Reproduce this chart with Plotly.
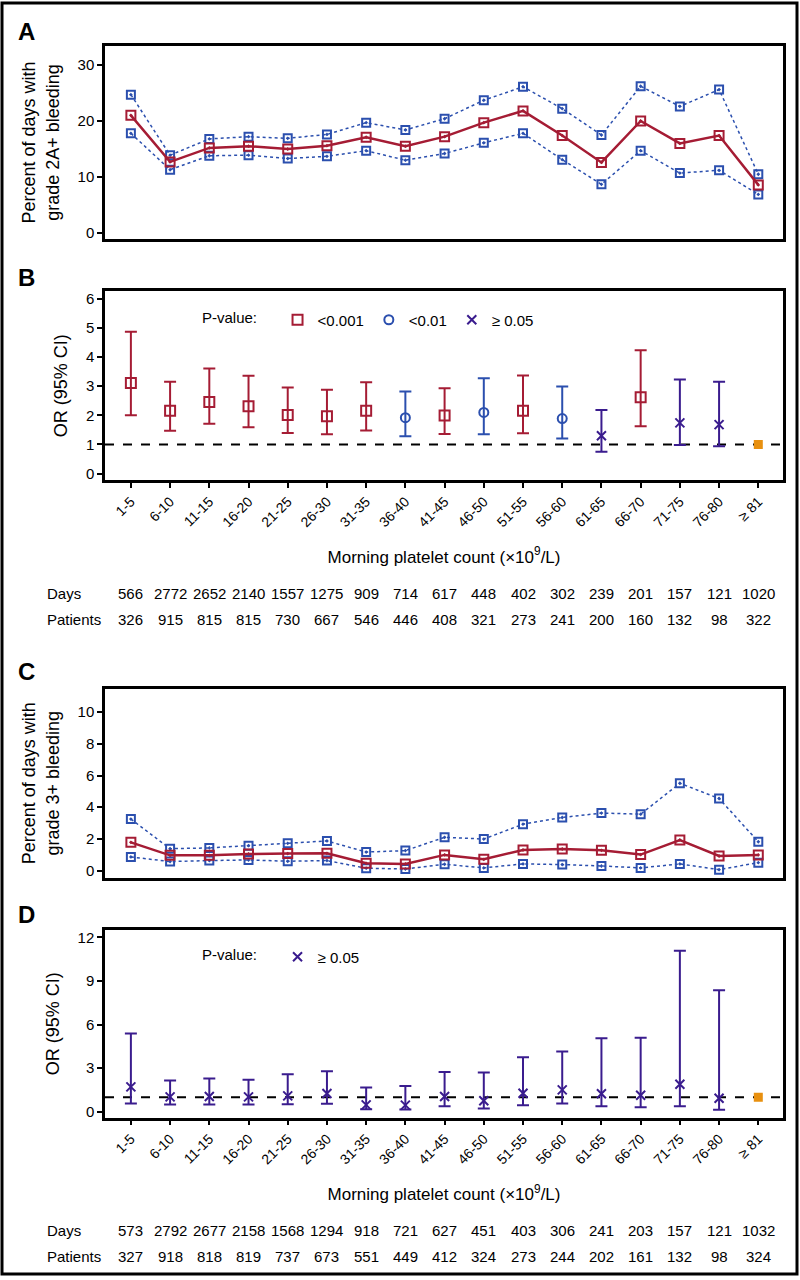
import plotly.graph_objects as go

W, H = 800, 1280

categories = ['1-5', '6-10', '11-15', '16-20', '21-25', '26-30', '31-35', '36-40',
              '41-45', '46-50', '51-55', '56-60', '61-65', '66-70', '71-75', '76-80', '≥ 81']

# panel A: percent of days with grade 2A+ bleeding
a_mean = [21.0, 12.7, 15.2, 15.5, 15.0, 15.6, 17.1, 15.5, 17.2, 19.7, 21.8, 17.4, 12.6, 20.0, 16.0, 17.4, 8.6]
a_upper = [24.7, 13.9, 16.8, 17.2, 16.9, 17.6, 19.7, 18.4, 20.4, 23.7, 26.1, 22.2, 17.5, 26.2, 22.6, 25.6, 10.5]
a_lower = [17.8, 11.3, 13.8, 13.9, 13.3, 13.7, 14.7, 13.0, 14.2, 16.1, 17.8, 13.1, 8.7, 14.7, 10.7, 11.2, 6.9]

# panel B: OR for grade 2A+ bleeding
b_or = [3.11, 2.16, 2.46, 2.31, 2.01, 1.97, 2.16, 1.92, 1.99, 2.10, 2.16, 1.89, 1.30, 2.62, 1.74, 1.68, 1.0]
b_lo = [2.00, 1.47, 1.71, 1.59, 1.39, 1.35, 1.48, 1.28, 1.36, 1.35, 1.38, 1.20, 0.75, 1.62, 0.98, 0.94, None]
b_hi = [4.87, 3.15, 3.61, 3.36, 2.96, 2.88, 3.14, 2.82, 2.93, 3.27, 3.37, 2.99, 2.18, 4.24, 3.23, 3.15, None]
b_pval = ['<0.001', '<0.001', '<0.001', '<0.001', '<0.001', '<0.001', '<0.001', '<0.01',
          '<0.001', '<0.01', '<0.001', '<0.01', '≥ 0.05', '<0.001', '≥ 0.05', '≥ 0.05', 'ref']
b_days = [566, 2772, 2652, 2140, 1557, 1275, 909, 714, 617, 448, 402, 302, 239, 201, 157, 121, 1020]
b_patients = [326, 915, 815, 815, 730, 667, 546, 446, 408, 321, 273, 241, 200, 160, 132, 98, 322]

# panel C: percent of days with grade 3+ bleeding
c_mean = [1.78, 0.96, 0.96, 1.05, 1.07, 1.09, 0.46, 0.42, 0.99, 0.71, 1.30, 1.36, 1.28, 1.01, 1.93, 0.92, 0.99]
c_upper = [3.25, 1.38, 1.43, 1.57, 1.72, 1.87, 1.17, 1.26, 2.10, 1.99, 2.93, 3.35, 3.63, 3.56, 5.51, 4.55, 1.82]
c_lower = [0.86, 0.57, 0.63, 0.67, 0.59, 0.63, 0.15, 0.10, 0.40, 0.17, 0.42, 0.38, 0.29, 0.17, 0.42, 0.06, 0.50]

# panel D: OR for grade 3+ bleeding
d_or = [1.72, 1.03, 1.05, 1.03, 1.10, 1.26, 0.48, 0.46, 1.05, 0.76, 1.28, 1.51, 1.24, 1.14, 1.90, 0.94, 1.0]
d_lo = [0.57, 0.50, 0.50, 0.50, 0.53, 0.55, 0.18, 0.16, 0.39, 0.23, 0.46, 0.57, 0.39, 0.32, 0.39, 0.14, None]
d_hi = [5.40, 2.15, 2.29, 2.20, 2.59, 2.79, 1.67, 1.78, 2.75, 2.70, 3.75, 4.16, 5.06, 5.10, 11.09, 8.37, None]
d_pval = ['≥ 0.05'] * 16 + ['ref']
d_days = [573, 2792, 2677, 2158, 1568, 1294, 918, 721, 627, 451, 403, 306, 241, 203, 157, 121, 1032]
d_patients = [327, 918, 818, 819, 737, 673, 551, 449, 412, 324, 273, 244, 202, 161, 132, 98, 324]

RED = '#a51c34'
BLUE = '#2b4fae'
PURPLE = '#3a1c8e'
ORANGE = '#e8900f'
FONT = 'Liberation Sans, Arial, sans-serif'

pstyle = {
    '<0.001': dict(color=RED, symbol='square-open', size=10),
    '<0.01': dict(color=BLUE, symbol='circle-open', size=9),
    '≥ 0.05': dict(color=PURPLE, symbol='x-thin-open', size=9),
}


def ypaper(top, bottom):
    return [1 - bottom / H, 1 - top / H]


XDOM = [105 / W, 783 / W]
XRANGE = [-0.66, 16.63]

fig = go.Figure()


def add_pct_panel(n, mean, upper, lower):
    xa, ya = ('x', 'y') if n == 1 else ('x%d' % n, 'y%d' % n)
    for vals in (upper, lower):
        fig.add_trace(go.Scatter(
            x=categories, y=vals, xaxis=xa, yaxis=ya, mode='lines+markers',
            line=dict(color=BLUE, width=1.5, dash='dot'),
            marker=dict(symbol='square-open-dot', size=8, color=BLUE, line=dict(width=2)),
            showlegend=False))
    fig.add_trace(go.Scatter(
        x=categories, y=mean, xaxis=xa, yaxis=ya, mode='lines+markers',
        line=dict(color=RED, width=2.5),
        marker=dict(symbol='square-open-dot', size=9, color=RED, line=dict(width=2)),
        showlegend=False))


def add_or_panel(n, orv, lo, hi, pval, legend):
    xa, ya = 'x%d' % n, 'y%d' % n
    for key, st in pstyle.items():
        idx = [i for i, p in enumerate(pval) if p == key]
        if not idx:
            continue
        fig.add_trace(go.Scatter(
            x=[categories[i] for i in idx], y=[orv[i] for i in idx],
            xaxis=xa, yaxis=ya, mode='markers', name=key, legend=legend,
            marker=dict(symbol=st['symbol'], size=st['size'], color=st['color'],
                        line=dict(width=2, color=st['color'])),
            error_y=dict(type='data', symmetric=False,
                         array=[hi[i] - orv[i] for i in idx],
                         arrayminus=[orv[i] - lo[i] for i in idx],
                         color=st['color'], thickness=2, width=6)))
    idx = [i for i, p in enumerate(pval) if p == 'ref']
    fig.add_trace(go.Scatter(
        x=[categories[i] for i in idx], y=[orv[i] for i in idx],
        xaxis=xa, yaxis=ya, mode='markers', showlegend=False,
        marker=dict(symbol='square', size=9, color=ORANGE)))
    fig.add_shape(type='line', xref='%s domain' % xa, yref=ya, x0=0, x1=1, y0=1, y1=1,
                  line=dict(color='black', width=2, dash='dash'), layer='below')


add_pct_panel(1, a_mean, a_upper, a_lower)
add_or_panel(2, b_or, b_lo, b_hi, b_pval, 'legend')
add_pct_panel(3, c_mean, c_upper, c_lower)
add_or_panel(4, d_or, d_lo, d_hi, d_pval, 'legend2')

axis_common = dict(showline=True, mirror=True, linecolor='black', linewidth=2.5,
                   showgrid=False, zeroline=False, ticks='outside', ticklen=5,
                   tickwidth=1.5, tickcolor='black',
                   tickfont=dict(size=15, color='black', family=FONT))

xtitle = dict(text='Morning platelet count (×10<sup>9</sup>/L)',
              font=dict(size=17, color='black', family=FONT), standoff=22)


def xaxis(show):
    d = dict(axis_common, domain=XDOM, range=XRANGE, type='category',
             categoryorder='array', categoryarray=categories)
    if show:
        d.update(tickangle=-45, title=xtitle,
                 tickfont=dict(size=14, color='black', family=FONT))
    else:
        d.update(ticks='', showticklabels=False)
    return d


def ytitle(text, standoff=10):
    return dict(text=text, font=dict(size=18, color='black', family=FONT), standoff=standoff)


fig.update_layout(
    width=W, height=H,
    margin=dict(l=0, r=0, t=0, b=0),
    paper_bgcolor='white', plot_bgcolor='white',
    font=dict(family=FONT, color='black'),
    xaxis=dict(xaxis(False), anchor='y'),
    xaxis2=dict(xaxis(True), anchor='y2'),
    xaxis3=dict(xaxis(False), anchor='y3'),
    xaxis4=dict(xaxis(True), anchor='y4'),
    yaxis=dict(axis_common, domain=ypaper(45, 239), range=[-1.1, 33.4],
               tickvals=[0, 10, 20, 30], anchor='x',
               title=ytitle('Percent of days with<br>grade 2A+ bleeding', 14)),
    yaxis2=dict(axis_common, domain=ypaper(291, 480.7), range=[-0.23, 6.27],
                tickvals=[0, 1, 2, 3, 4, 5, 6], anchor='x2',
                title=ytitle('OR (95% CI)', 14)),
    yaxis3=dict(axis_common, domain=ypaper(690, 879.3), range=[-0.44, 11.47],
                tickvals=[0, 2, 4, 6, 8, 10], anchor='x3',
                title=ytitle('Percent of days with<br>grade 3+ bleeding', 14)),
    yaxis4=dict(axis_common, domain=ypaper(931.7, 1120), range=[-0.39, 12.53],
                tickvals=[0, 3, 6, 9, 12], anchor='x4',
                title=ytitle('OR (95% CI)', 14)),
    legend=dict(x=200 / W, y=1 - 320 / H, xanchor='left', yanchor='middle',
                orientation='h', bgcolor='rgba(0,0,0,0)',
                title=dict(text='P-value:   ', side='left', font=dict(size=15)),
                font=dict(size=15, color='black', family=FONT), itemwidth=30),
    legend2=dict(x=200 / W, y=1 - 959 / H, xanchor='left', yanchor='middle',
                 orientation='h', bgcolor='rgba(0,0,0,0)',
                 title=dict(text='P-value:   ', side='left', font=dict(size=15)),
                 font=dict(size=15, color='black', family=FONT), itemwidth=30),
)

# outer frame
fig.add_shape(type='rect', xref='paper', yref='paper', x0=2 / W, x1=797 / W,
              y0=1 - 1277 / H, y1=1 - 2 / H, line=dict(color='black', width=3))

# panel letters
for letter, top in (('A', 31), ('B', 277), ('C', 673), ('D', 916)):
    fig.add_annotation(text='<b>%s</b>' % letter, xref='paper', yref='paper',
                       x=16 / W, y=1 - top / H, xanchor='left', yanchor='middle',
                       showarrow=False, font=dict(size=24, color='black', family=FONT))

# count tables under the OR panels
for xa, rows in (('x2', ((594, 'Days', b_days), (620, 'Patients', b_patients))),
                 ('x4', ((1233, 'Days', d_days), (1259, 'Patients', d_patients)))):
    for ypx, label, vals in rows:
        fig.add_annotation(text=label, xref='paper', yref='paper', x=45 / W,
                           y=1 - ypx / H, xanchor='left', yanchor='middle',
                           showarrow=False, font=dict(size=15, color='black', family=FONT))
        for cat, v in zip(categories, vals):
            fig.add_annotation(text=str(v), xref=xa, yref='paper', x=cat,
                               y=1 - ypx / H, xanchor='center', yanchor='middle',
                               showarrow=False, font=dict(size=15, color='black', family=FONT))

fig.write_html('out.html', config={'displayModeBar': False},
               post_script="document.body.style.margin='0px';")
